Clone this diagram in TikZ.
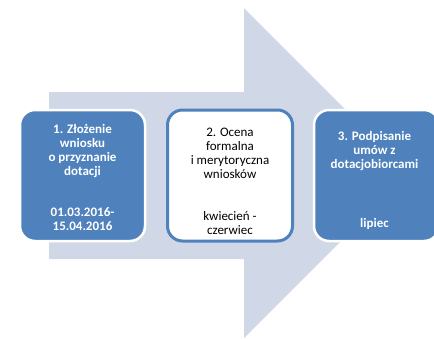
\documentclass[tikz,border=0pt]{standalone}
\usepackage{fontspec}
\setmainfont{Carlito}
\usetikzlibrary{positioning}
\definecolor{arrowgray}{HTML}{D0D8E8}
\definecolor{boxblue}{HTML}{4F81BD}

\begin{document}
\begin{tikzpicture}[x=1pt, y=-1pt,
    stage/.style={rectangle, rounded corners=15pt, minimum width=125pt, minimum height=131pt},
    filled/.style={stage, fill=boxblue, draw=white, line width=2.5pt},
    plain/.style={stage, fill=white, draw=boxblue, line width=3pt},
    caption/.style={align=center, inner sep=0pt, font=\fontsize{13}{14}\selectfont},
    boldcaption/.style={caption, text=white, font=\bfseries\fontsize{13}{14}\selectfont}]
    \useasboundingbox (0, 0) rectangle (434, 338);

    % big background arrow
    \fill[arrowgray] (49, 92) -- (244, 92) -- (244, 8) -- (409, 173) -- (244, 338)
        -- (244, 259) -- (49, 259) -- cycle;

    \node[filled] (S1) at (82.5, 175.5) {};
    \node[plain] (S2) at (230, 175.5) {};
    \node[filled] (S3) at (376.5, 175.5) {};

    \node[boldcaption] (S1t) [below=15pt of S1.north]
        {1. Złożenie\\wniosku\\o przyznanie\\dotacji\\[27pt]01.03.2016-\\15.04.2016};
    \node[caption, text=black] (S2t) [below=19pt of S2.north]
        {2. Ocena\\formalna\\i merytoryczna\\wniosków\\[28pt]kwiecień -\\czerwiec};
    \node[boldcaption] (S3t) [below=22pt of S3.north, xshift=-2pt]
        {3. Podpisanie\\umów z\\dotacjobiorcami\\[45pt]lipiec};
\end{tikzpicture}
\end{document}
